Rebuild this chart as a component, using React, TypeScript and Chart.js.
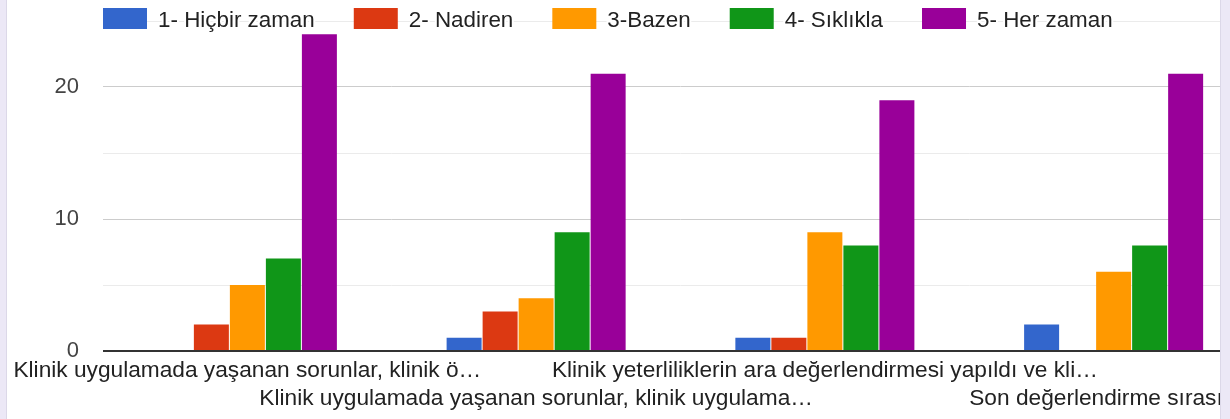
import { useEffect, useRef } from 'react';
import { Chart, registerables } from 'chart.js';

Chart.register(...registerables);

const categories = [
  'Klinik uygulamada yaşanan sorunlar, klinik ö…',
  'Klinik uygulamada yaşanan sorunlar, klinik uygulama…',
  'Klinik yeterliliklerin ara değerlendirmesi yapıldı ve kli…',
  'Son değerlendirme sırasın…',
];

const seriesNames = ['1- Hiçbir zaman', '2- Nadiren', '3-Bazen', '4- Sıklıkla', '5- Her zaman'];
const seriesColors = ['#3366cc', '#dc3912', '#ff9900', '#109618', '#990099'];

const hicbirZaman = [0, 1, 1, 2];
const nadiren = [2, 3, 1, 0];
const bazen = [5, 4, 9, 6];
const siklikla = [7, 9, 8, 8];
const herZaman = [24, 21, 19, 21];

const seriesValues = [hicbirZaman, nadiren, bazen, siklikla, herZaman];

const yMax = 25;
const yStep = 5;
const yLabelEvery = 10;

const FONT = '"Liberation Sans", Arial, sans-serif';

const topLegend = {
  id: 'topLegend',
  afterDraw(chart: any) {
    const ctx = chart.ctx as CanvasRenderingContext2D;
    ctx.save();
    ctx.font = `22.4px ${FONT}`;
    ctx.textBaseline = 'alphabetic';
    let x = chart.chartArea.left;
    chart.data.datasets.forEach((ds: any) => {
      ctx.fillStyle = ds.backgroundColor;
      ctx.fillRect(x, 8, 44, 21);
      x += 44 + 11;
      const w = ctx.measureText(ds.label).width;
      ctx.lineWidth = 4;
      ctx.lineJoin = 'round';
      ctx.strokeStyle = '#ffffff';
      ctx.strokeText(ds.label, x, 27);
      ctx.fillStyle = '#222222';
      ctx.fillText(ds.label, x, 27);
      x += w + 39;
    });
    ctx.restore();
  },
};

export default function App() {
  const ref = useRef<HTMLCanvasElement>(null);

  useEffect(() => {
    if (!ref.current) return;
    Chart.defaults.font.family = FONT;
    const chart = new Chart(ref.current, {
      type: 'bar',
      data: {
        labels: categories,
        datasets: seriesNames.map((name, i) => ({
          label: name,
          data: seriesValues[i],
          backgroundColor: seriesColors[i],
          borderWidth: 0,
          categoryPercentage: 0.6235,
          barPercentage: 0.972,
        })),
      },
      options: {
        animation: false,
        responsive: true,
        maintainAspectRatio: false,
        events: [],
        layout: { padding: { top: 21, right: 5, left: 0, bottom: 0 } },
        plugins: {
          legend: { display: false },
          tooltip: { enabled: false },
          title: { display: false },
        },
        scales: {
          x: {
            grid: { display: false, drawTicks: false },
            border: { display: false },
            ticks: {
              autoSkip: false,
              maxRotation: 0,
              minRotation: 0,
              padding: 6,
              color: '#222222',
              font: { size: 22.7, lineHeight: 28 / 22.7, family: FONT },
              callback: (_v: any, index: number) =>
                index % 2 === 1 ? ['', categories[index]] : categories[index],
            },
            afterFit: (scale: any) => {
              scale.height = 68;
              scale.paddingLeft = 0;
              scale.paddingRight = 0;
            },
          },
          y: {
            min: 0,
            max: yMax,
            grid: {
              drawTicks: false,
              color: (c: any) =>
                c.tick.value === 0 ? '#333333' : c.tick.value % yLabelEvery === 0 ? '#cccccc' : '#ebebeb',
              lineWidth: (c: any) => (c.tick.value === 0 ? 2 : 1),
            },
            border: { display: false },
            ticks: {
              stepSize: yStep,
              padding: 24,
              color: '#444444',
              font: { size: 22, family: FONT },
              callback: (v: any) => (Number(v) % yLabelEvery === 0 ? String(v) : ''),
            },
            afterFit: (scale: any) => {
              scale.width = 96;
              scale.paddingTop = 0;
              scale.paddingBottom = 0;
            },
          },
        },
      },
      plugins: [topLegend],
    });
    return () => chart.destroy();
  }, []);

  return (
    <div
      style={{
        position: 'fixed',
        left: 0,
        top: 0,
        width: 1230,
        height: 419,
        background: '#ece8f6',
        overflow: 'hidden',
      }}
    >
      <div
        style={{
          position: 'absolute',
          left: 6,
          top: 0,
          width: 1213,
          height: 419,
          background: '#ffffff',
          borderLeft: '1px solid #dcd8e8',
          borderRight: '1px solid #dcd8e8',
          overflow: 'hidden',
        }}
      >
        <div style={{ position: 'relative', width: 1256, height: 419 }}>
          <canvas ref={ref} style={{ display: 'block' }} />
        </div>
      </div>
    </div>
  );
}
